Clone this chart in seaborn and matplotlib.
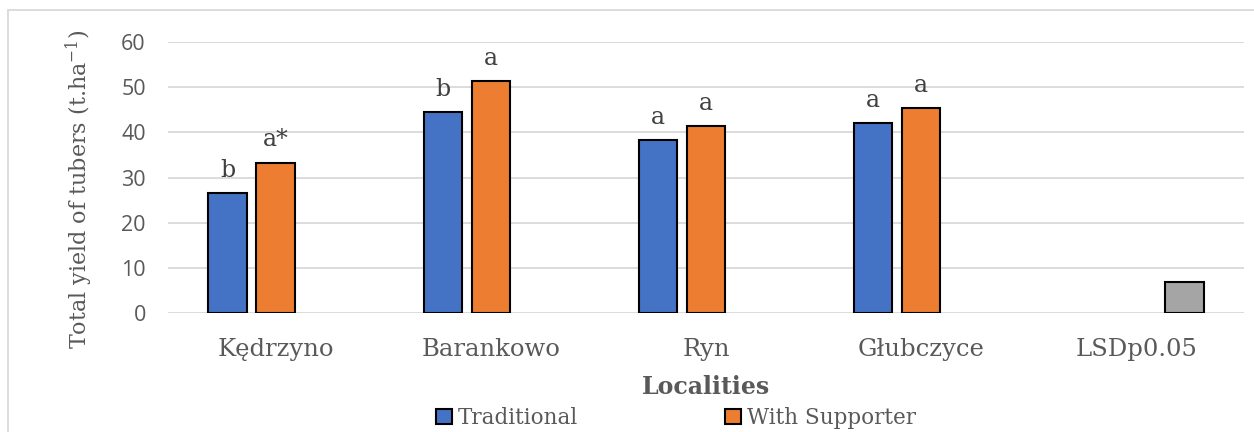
import matplotlib
matplotlib.use("Agg")
import matplotlib.pyplot as plt
from matplotlib.patches import Patch, Rectangle
import seaborn as sns
import pandas as pd

# Total tuber yield (t/ha) per locality and cultivation system
localities = ["Kędrzyno", "Barankowo", "Ryn", "Głubczyce", "LSDp0.05"]
traditional = [26.5, 44.5, 38.3, 42.0]
with_supporter = [33.3, 51.4, 41.3, 45.3]
lsd_value = [6.9]
letters_traditional = ["b", "b", "a", "a"]
letters_supporter = ["a*", "a", "a", "a"]
series_names = ["Traditional", "With Supporter", "LSD"]
series_colors = ["#4472C4", "#ED7D31", "#A5A5A5"]

rows = []
for loc, v in zip(localities[:4], traditional):
    rows.append((loc, series_names[0], v))
for loc, v in zip(localities[:4], with_supporter):
    rows.append((loc, series_names[1], v))
rows.append((localities[4], series_names[2], lsd_value[0]))
df = pd.DataFrame(rows, columns=["Locality", "Series", "Yield"])

sns.set_theme(style="white")
serif = ["DejaVu Serif"]
sans = ["Open Sans", "DejaVu Sans"]
plt.rcParams["font.family"] = serif
plt.rcParams["mathtext.fontset"] = "dejavuserif"

fig = plt.figure(figsize=(12.54, 4.32), dpi=100)
ax = fig.add_axes([168 / 1254, 1 - 313 / 432, (1244 - 168) / 1254, (313 - 42) / 432])

sns.barplot(
    data=df, x="Locality", y="Yield", hue="Series",
    order=localities, hue_order=series_names, palette=series_colors,
    width=0.67, gap=0.2, edgecolor="black", linewidth=1.5,
    saturation=1, legend=False, ax=ax, errorbar=None,
)

ax.set_xlim(-0.5, len(localities) - 0.5)
ax.set_ylim(0, 60)
ax.set_yticks(range(0, 61, 10))
ax.yaxis.grid(True, color="#D9D9D9", linewidth=1.3)
ax.set_axisbelow(True)
for s in ax.spines.values():
    s.set_visible(False)
ax.tick_params(axis="both", length=0)
ax.tick_params(axis="y", pad=16)
ax.tick_params(axis="x", pad=18)
for lab in ax.get_yticklabels():
    lab.set_fontfamily(sans)
    lab.set_fontsize(15.5)
    lab.set_color("#595959")
for lab in ax.get_xticklabels():
    lab.set_fontsize(17.5)
    lab.set_color("#595959")

ax.set_xlabel("Localities", fontsize=17, fontweight="bold", color="#595959", labelpad=10)
ax.set_ylabel("Total yield of tubers (t.ha$^{-1}$)", fontsize=16, color="#595959", labelpad=19)
ax.yaxis.label.set_y(0.455)

# Significance letters above the bars
for container, letters in zip(ax.containers[:2], [letters_traditional, letters_supporter]):
    ax.bar_label(container, labels=letters, padding=8, fontsize=17, color="#404040")

handles = [Patch(facecolor=c, edgecolor="black", linewidth=1.5) for c in series_colors[:2]]
fig.legend(
    handles, series_names[:2], loc="center", bbox_to_anchor=(676 / 1254, 1 - 418 / 432),
    ncol=2, frameon=False, fontsize=15.5, handlelength=0.75, handleheight=0.75,
    handletextpad=0.3, columnspacing=6.8, labelcolor="#595959",
)

# Light frame around the chart area
fig.patches.append(Rectangle((8 / 1254, -0.01), 1.02, 1 - 10 / 432 + 0.01,
                             transform=fig.transFigure, fill=False,
                             edgecolor="#D9D9D9", linewidth=1.3))

fig.savefig("out.png", dpi=100)
